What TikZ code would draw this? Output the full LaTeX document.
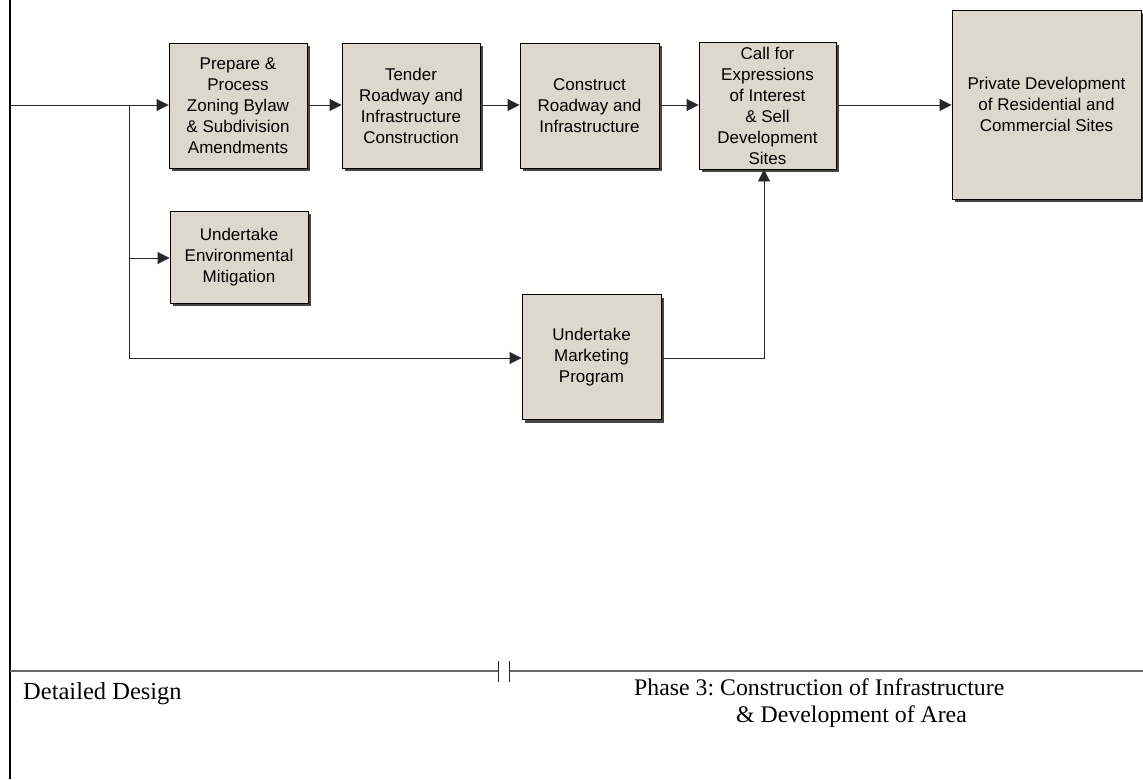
\documentclass[tikz,border=0pt]{standalone}
\usepackage{fontspec}
\setmainfont{Liberation Serif}
\newfontfamily\boxfont{Liberation Sans}
\usetikzlibrary{arrows.meta,shadows}
\definecolor{taskfill}{RGB}{222,215,203}
\definecolor{shadowgray}{RGB}{70,70,70}
\definecolor{linegray}{RGB}{40,40,40}
\definecolor{rulegray}{RGB}{105,105,105}
\tikzset{
  task/.style={draw=black, line width=0.9pt, fill=taskfill, align=center,
    inner sep=0pt, font=\boxfont\fontsize{17}{21}\selectfont,
    drop shadow={shadow xshift=3pt, shadow yshift=-3pt, fill=shadowgray, opacity=1}},
  conn/.style={draw=linegray, line width=0.9pt},
  flow/.style={conn, -{Triangle[length=12pt,width=12pt]}},
  phase/.style={inner sep=0pt, anchor=base west},
}
\begin{document}
\frenchspacing
\begin{tikzpicture}[x=1pt,y=-1pt]
\useasboundingbox (0,0) rectangle (1143,779);
\fill[white] (0,0) rectangle (1143,779);

% task boxes
\node[task, minimum width=138pt, minimum height=125pt] (prep) at (238,105.5)
  {Prepare \&\\Process\\Zoning Bylaw\\\& Subdivision\\Amendments};
\node[task, minimum width=138pt, minimum height=125pt] (tender) at (411,105.5)
  {Tender\\Roadway and\\Infrastructure\\Construction};
\node[task, minimum width=139pt, minimum height=125pt] (build) at (589.5,105.5)
  {Construct\\Roadway and\\Infrastructure};
\node[task, minimum width=137pt, minimum height=127pt] (sell) at (767.5,105.5)
  {Call for\\Expressions\\of Interest\\\& Sell\\Development\\Sites};
\node[task, minimum width=189pt, minimum height=189pt] (private) at (1046.5,104.5)
  {Private Development\\of Residential and\\Commercial Sites};
\node[task, minimum width=138pt, minimum height=92pt] (env) at (239,257)
  {Undertake\\Environmental\\Mitigation};
\node[task, minimum width=139pt, minimum height=125pt] (mkt) at (591.5,357)
  {Undertake\\Marketing\\Program};

% connector junctions
\coordinate (start) at (10,105);
\coordinate (split) at (129,105);
\coordinate (envtap) at (129,258);
\coordinate (mkttap) at (129,358);
\coordinate (bend) at (764,358);

\draw[flow] (start) -- (start -| prep.west);
\draw[conn] (split) -- (mkttap);
\draw[flow] (envtap) -- (envtap -| env.west);
\draw[flow] (mkttap) -- (mkttap -| mkt.west);
\draw[flow] (prep.east |- start) -- (start -| tender.west);
\draw[flow] (tender.east |- start) -- (start -| build.west);
\draw[flow] (build.east |- start) -- (start -| sell.west);
\draw[flow] (sell.east |- start) -- (start -| private.west);
\draw[flow] (mkt.east |- mkttap) -- (bend) -- (bend |- sell.south);

% page frame and phase divider
\draw[black, line width=2pt] (9.5,0) -- (9.5,779);
\coordinate (breakL) at (498,671);
\coordinate (breakR) at (509,671);
\draw[rulegray, line width=1.4pt] (10,671) -- (breakL);
\draw[rulegray, line width=1.4pt] (breakR) -- (1143,671);
\draw[linegray, line width=1pt] (498,661) -- (498,682) (509,661) -- (509,682);

% phase labels
\node[phase, font=\fontsize{24.5}{28}\selectfont] (detail) at (23,699) {Detailed Design};
\node[phase, font=\fontsize{23.8}{28}\selectfont] (phase3a) at (634,695) {Phase 3: Construction of Infrastructure};
\node[phase, font=\fontsize{23.8}{28}\selectfont] (phase3b) at (736,722) {\& Development of Area};
\end{tikzpicture}
\end{document}
